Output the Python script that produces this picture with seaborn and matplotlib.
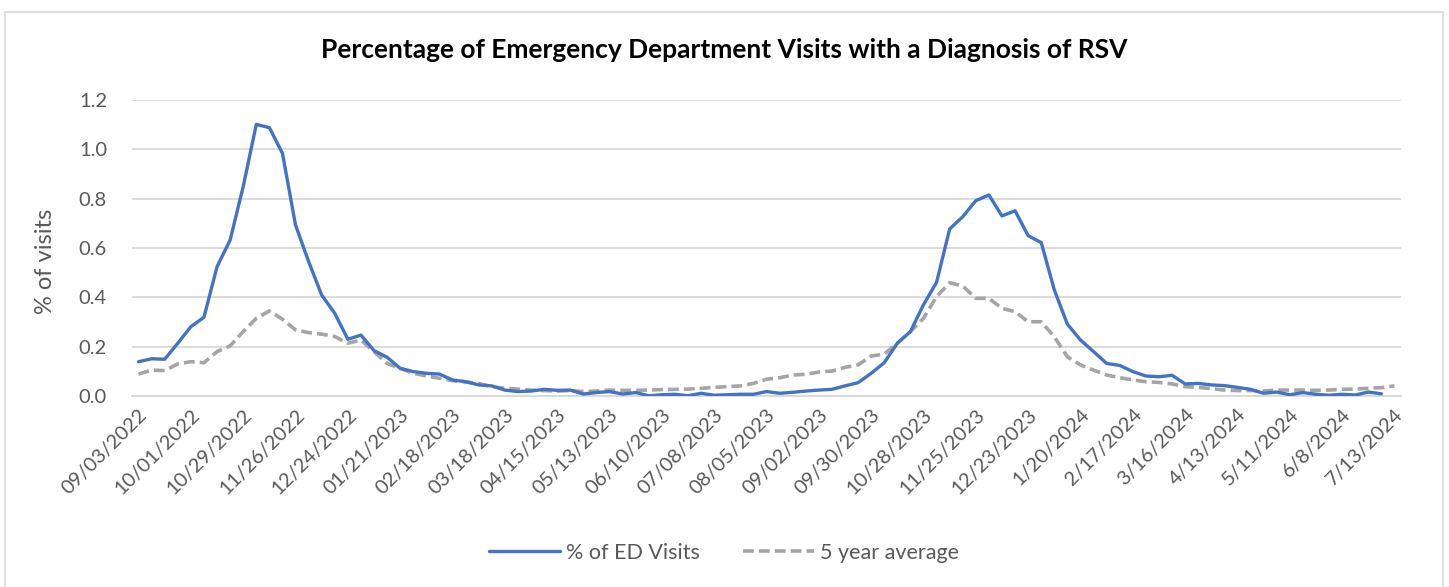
import numpy as np
import pandas as pd
import seaborn as sns
import matplotlib.pyplot as plt
from matplotlib.patches import Rectangle

# tick labels (every 4th week)
week_labels = ['09/03/2022', '10/01/2022', '10/29/2022', '11/26/2022', '12/24/2022',
               '01/21/2023', '02/18/2023', '03/18/2023', '04/15/2023', '05/13/2023',
               '06/10/2023', '07/08/2023', '08/05/2023', '09/02/2023', '09/30/2023',
               '10/28/2023', '11/25/2023', '12/23/2023', '1/20/2024', '2/17/2024',
               '3/16/2024', '4/13/2024', '5/11/2024', '6/8/2024', '7/13/2024']

# % of ED visits with RSV diagnosis, weekly (96 weeks)
ed_visits = [0.139, 0.151, 0.149, 0.214, 0.281, 0.319, 0.524, 0.632, 0.849, 1.101,
             1.088, 0.984, 0.693, 0.545, 0.409, 0.335, 0.230, 0.247, 0.184, 0.157,
             0.112, 0.099, 0.092, 0.089, 0.065, 0.058, 0.045, 0.041, 0.024, 0.018,
             0.020, 0.027, 0.023, 0.024, 0.008, 0.014, 0.018, 0.008, 0.014, 0.001,
             0.005, 0.007, 0.001, 0.011, 0.003, 0.005, 0.007, 0.007, 0.018, 0.011,
             0.015, 0.020, 0.024, 0.027, 0.041, 0.054, 0.092, 0.135, 0.214, 0.261,
             0.370, 0.461, 0.677, 0.727, 0.792, 0.815, 0.730, 0.751, 0.650, 0.622,
             0.430, 0.291, 0.227, 0.180, 0.132, 0.124, 0.099, 0.081, 0.078, 0.084,
             0.049, 0.051, 0.045, 0.042, 0.035, 0.027, 0.011, 0.016, 0.005, 0.014,
             0.007, 0.003, 0.007, 0.004, 0.016, 0.009]

# 5 year average (97 weeks)
five_year_avg = [0.089, 0.105, 0.103, 0.130, 0.139, 0.135, 0.180, 0.203, 0.261, 0.315,
                 0.345, 0.311, 0.268, 0.257, 0.251, 0.241, 0.214, 0.227, 0.180, 0.132,
                 0.112, 0.092, 0.081, 0.072, 0.062, 0.057, 0.051, 0.038, 0.031, 0.028,
                 0.024, 0.022, 0.020, 0.022, 0.018, 0.020, 0.024, 0.023, 0.023, 0.024,
                 0.026, 0.027, 0.028, 0.031, 0.035, 0.038, 0.041, 0.051, 0.068, 0.074,
                 0.085, 0.088, 0.097, 0.101, 0.116, 0.126, 0.162, 0.170, 0.214, 0.261,
                 0.315, 0.403, 0.459, 0.446, 0.396, 0.396, 0.355, 0.342, 0.301, 0.301,
                 0.240, 0.159, 0.126, 0.105, 0.085, 0.074, 0.065, 0.058, 0.055, 0.049,
                 0.038, 0.035, 0.030, 0.024, 0.022, 0.022, 0.020, 0.024, 0.024, 0.024,
                 0.023, 0.024, 0.027, 0.028, 0.031, 0.034, 0.041]

df_ed = pd.DataFrame({'week': np.arange(len(ed_visits)), 'value': ed_visits})
df_avg = pd.DataFrame({'week': np.arange(len(five_year_avg)), 'value': five_year_avg})

sns.set_theme(style='white')
plt.rcParams['font.family'] = ['Lato', 'DejaVu Sans']

txt = '#595959'
grid = '#D9D9D9'
W, H = 1449, 587

fig = plt.figure(figsize=(W / 100, H / 100), dpi=100)
ax = fig.add_axes([132 / W, 1 - 396 / H, (1401 - 132) / W, 296 / H])

# chart area border
fig.patches.append(Rectangle((5 / W, -0.01), 1438 / W, 1 - 12 / H + 0.01,
                             transform=fig.transFigure, fill=False,
                             edgecolor=grid, lw=1.2))

sns.lineplot(data=df_avg, x='week', y='value', ax=ax, color='#A5A5A5', lw=2.6,
             label='5 year average', zorder=3)
ax.lines[-1].set_dashes((3.0, 1.4))
sns.lineplot(data=df_ed, x='week', y='value', ax=ax, color='#4472C4', lw=2.4,
             label='% of ED Visits', zorder=4)

n = len(five_year_avg)
ax.set_xlim(-0.5, n - 0.5)
ax.set_ylim(0, 1.2)
ax.set_yticks(np.arange(0, 1.21, 0.2))
ax.set_yticklabels([f'{v:.1f}' for v in np.arange(0, 1.21, 0.2)])
ax.yaxis.grid(True, color=grid, lw=1.3)
ax.set_axisbelow(True)

ax.set_xticks(np.arange(0, n, 4))
ax.set_xticklabels(week_labels, rotation=45, ha='right', rotation_mode='anchor')
ax.set_xticks(np.arange(0, n, 4) - 0.5, minor=True)
ax.tick_params(axis='x', which='major', length=0, pad=7, labelsize=14.5, colors=txt)
ax.tick_params(axis='x', which='minor', length=4, color=grid, width=1)
ax.tick_params(axis='y', length=0, pad=18, labelsize=14.5, colors=txt)

for s in ['top', 'right', 'left']:
    ax.spines[s].set_visible(False)
ax.spines['bottom'].set_color(grid)
ax.spines['bottom'].set_linewidth(1.3)

ax.set_xlabel('')
ax.set_ylabel('% of visits', fontsize=17, color=txt)
ax.yaxis.set_label_coords((56 - 132) / 1269, (396 - 261) / 296)

fig.suptitle('Percentage of Emergency Department Visits with a Diagnosis of RSV',
             x=724 / W, y=1 - 50 / H, va='center',
             fontsize=19, fontweight='bold', color='black')

handles, labels = ax.get_legend_handles_labels()
ax.get_legend().remove()
fig.legend(handles[::-1], labels[::-1], loc='center', bbox_to_anchor=(724 / W, 1 - 553 / H),
           ncol=2, frameon=False, fontsize=15.5, labelcolor=txt,
           handlelength=3.3, handletextpad=0.3, columnspacing=2.0)

fig.savefig('out.png', dpi=100, facecolor='white')
